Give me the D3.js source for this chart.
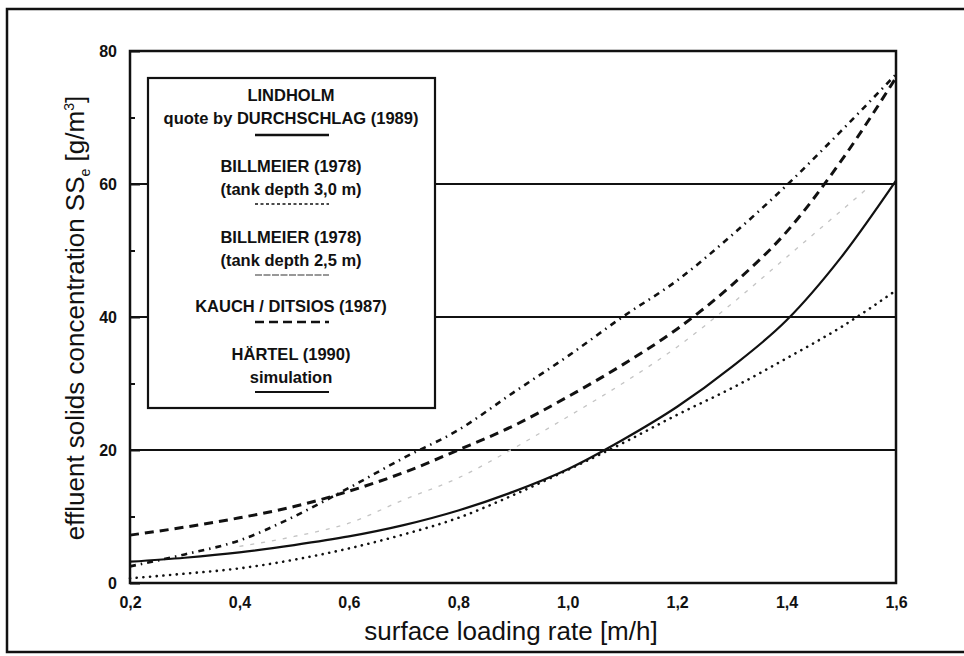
<!DOCTYPE html>
<html>
<head>
<meta charset="utf-8">
<script src="https://cdn.jsdelivr.net/npm/d3@7"></script>
<style>
  body { margin: 0; background: #fff; }
  svg { display: block; }
  text { font-family: "Liberation Sans", Arial, sans-serif; fill: #111; }
</style>
</head>
<body>
<svg id="chart" width="964" height="656"></svg>
<script>
// surface loading rate [m/h] (x values)
var loadingRate = [0.2, 0.3, 0.4, 0.5, 0.6, 0.7, 0.8, 0.9, 1.0, 1.1, 1.2, 1.3, 1.4, 1.5, 1.6];
// curves, g/m3
var hartelSim   = [3.2, 3.8, 4.6, 5.7, 7.0, 8.7, 10.9, 13.7, 17.1, 21.5, 26.5, 32.5, 39.5, 49, 60.5];
var dottedCurve = [0.7, 1.4, 2.2, 3.5, 5.2, 7.3, 9.8, 13.2, 17, 21, 25.3, 29.3, 33.8, 38.5, 44];
var kauchDitsios = [7.2, 8.4, 9.8, 11.5, 13.8, 16.6, 20, 23.6, 28, 32.8, 38.2, 44.8, 52.8, 63.5, 76];
var dashDotCurve = [2.5, 4.3, 6.4, 10, 14.3, 18.8, 23, 28.6, 34.1, 40, 45.5, 52.3, 59.8, 68, 76.5];
// faint grey curve only shows from 0.4 on
var faintRate  = [0.4, 0.5, 0.6, 0.7, 0.8, 0.9, 1.0, 1.1, 1.2, 1.3, 1.4, 1.5, 1.55];
var faintCurve = [5.5, 7.0, 9.0, 12.5, 15.8, 20.2, 25, 30, 35.5, 42, 49, 56, 59.5];
// horizontal levels (Lindholm)
var lindholmLevels = [20, 40, 60];

var xTicks = [0.2, 0.4, 0.6, 0.8, 1.0, 1.2, 1.4, 1.6];
var yTicks = [0, 20, 40, 60, 80];
var yMinorTicks = [10, 30, 50, 70];

var legendEntries = [
    { lines: ["LINDHOLM", "quote by DURCHSCHLAG (1989)"], style: "solidThick" },
    { lines: ["BILLMEIER (1978)", "(tank depth 3,0 m)"], style: "dotted" },
    { lines: ["BILLMEIER (1978)", "(tank depth 2,5 m)"], style: "thin" },
    { lines: ["KAUCH / DITSIOS (1987)"], style: "dashed" },
    { lines: ["HÄRTEL (1990)", "simulation"], style: "solid" }
];

var svg = d3.select("#chart");

// outer frame of the scanned figure
svg.append("rect")
    .attr("x", 7).attr("y", 9)
    .attr("width", 970).attr("height", 643)
    .attr("fill", "none").attr("stroke", "#111").attr("stroke-width", 2.5);

// note: "top" is a reserved window prop, so plot* names
var plotLeft = 130, plotRight = 896, plotTop = 51, plotBottom = 583;

var x = d3.scaleLinear().domain([0.2, 1.6]).range([plotLeft, plotRight]);
var y = d3.scaleLinear().domain([0, 80]).range([plotBottom, plotTop]);

var commaFmt = function (d) { return d3.format(".1f")(d).replace(".", ","); };

// x axis labels
var xAxis = svg.append("g")
    .attr("transform", "translate(0," + plotBottom + ")")
    .call(d3.axisBottom(x).tickValues(xTicks).tickSize(0).tickPadding(14).tickFormat(commaFmt));
xAxis.select(".domain").remove();
xAxis.selectAll("text")
    .style("font-family", "'Liberation Sans', Arial, sans-serif")
    .style("font-size", "16px").style("font-weight", "bold").attr("fill", "#111");

// y axis, ticks pointing inward
var yAxis = svg.append("g")
    .attr("transform", "translate(" + plotLeft + ",0)")
    .call(d3.axisLeft(y).tickValues(yTicks).tickSize(-10).tickPadding(13).tickFormat(d3.format("d")));
yAxis.select(".domain").remove();
yAxis.selectAll("line").attr("stroke", "#111").attr("stroke-width", 2);
yAxis.selectAll("text")
    .style("font-family", "'Liberation Sans', Arial, sans-serif")
    .style("font-size", "16px").style("font-weight", "bold").attr("fill", "#111");

var yMinor = svg.append("g")
    .attr("transform", "translate(" + plotLeft + ",0)")
    .call(d3.axisLeft(y).tickValues(yMinorTicks).tickSize(-5).tickFormat(""));
yMinor.select(".domain").remove();
yMinor.selectAll("line").attr("stroke", "#111").attr("stroke-width", 2);

// Lindholm horizontal lines
svg.append("g").selectAll("line")
    .data(lindholmLevels)
    .enter()
    .append("line")
    .attr("x1", x(0.2)).attr("x2", x(1.6))
    .attr("y1", function (d) { return y(d); })
    .attr("y2", function (d) { return y(d); })
    .attr("stroke", "#111").attr("stroke-width", 2);

var line = d3.line()
    .x(function (d) { return x(d[0]); })
    .y(function (d) { return y(d[1]); })
    .curve(d3.curveMonotoneX);

function drawCurve(xs, ys, stroke, width, dash, cap) {
    var pts = xs.map(function (v, i) { return [v, ys[i]]; });
    svg.append("path")
        .datum(pts)
        .attr("d", line)
        .attr("fill", "none")
        .attr("stroke", stroke)
        .attr("stroke-width", width)
        .attr("stroke-dasharray", dash)
        .attr("stroke-linecap", cap || "butt");
}

drawCurve(faintRate, faintCurve, "#c4c4c4", 1.3, "4,7");
drawCurve(loadingRate, dottedCurve, "#111", 2.6, "0.1,6.6", "round");
drawCurve(loadingRate, hartelSim, "#111", 2.2, null);
drawCurve(loadingRate, kauchDitsios, "#111", 3, "9,6");
drawCurve(loadingRate, dashDotCurve, "#111", 2.6, "6,5,1.5,5");

// plot frame
svg.append("rect")
    .attr("x", plotLeft).attr("y", plotTop)
    .attr("width", plotRight - plotLeft).attr("height", plotBottom - plotTop)
    .attr("fill", "none").attr("stroke", "#111").attr("stroke-width", 2.5);

// legend box
var legend = svg.append("g");
legend.append("rect")
    .attr("x", 148).attr("y", 78).attr("width", 287).attr("height", 330)
    .attr("fill", "#fff").attr("stroke", "#111").attr("stroke-width", 2.2);

var cx = 291;
var rowY = [95, 166, 237, 306, 354];
var lineY = [135, 204, 275, 322, 392];
var sampleStyles = {
    solidThick: { w: 2.6, dash: null, color: "#111" },
    dotted: { w: 1.6, dash: "3,2.5", color: "#111" },
    thin: { w: 1.2, dash: "7,1.5", color: "#333" },
    dashed: { w: 2.6, dash: "9,5", color: "#111" },
    solid: { w: 2, dash: null, color: "#111" }
};

legendEntries.forEach(function (e, i) {
    e.lines.forEach(function (t, j) {
        legend.append("text")
            .attr("x", cx).attr("y", rowY[i] + j * 23)
            .attr("dy", "0.35em")
            .attr("text-anchor", "middle")
            .style("font-size", "16.5px").style("font-weight", "bold")
            .text(t);
    });
    var s = sampleStyles[e.style];
    legend.append("line")
        .attr("x1", cx - 36).attr("x2", cx + 38)
        .attr("y1", lineY[i]).attr("y2", lineY[i])
        .attr("stroke", s.color).attr("stroke-width", s.w)
        .attr("stroke-dasharray", s.dash);
});

// axis titles
svg.append("text")
    .attr("x", 511).attr("y", 640)
    .attr("text-anchor", "middle")
    .style("font-size", "26px")
    .text("surface loading rate [m/h]");

var yTitle = svg.append("text")
    .attr("transform", "translate(84," + 318 + ") rotate(-90)")
    .attr("text-anchor", "middle")
    .style("font-size", "26px");
yTitle.append("tspan").text("effluent solids concentration SS");
yTitle.append("tspan").attr("dy", 6).style("font-size", "14px").text("e");
yTitle.append("tspan").attr("dy", -6).text("   [g/m");
yTitle.append("tspan").attr("dy", -10).style("font-size", "14px").text("3");
yTitle.append("tspan").attr("dy", 10).text("]");
</script>
</body>
</html>
